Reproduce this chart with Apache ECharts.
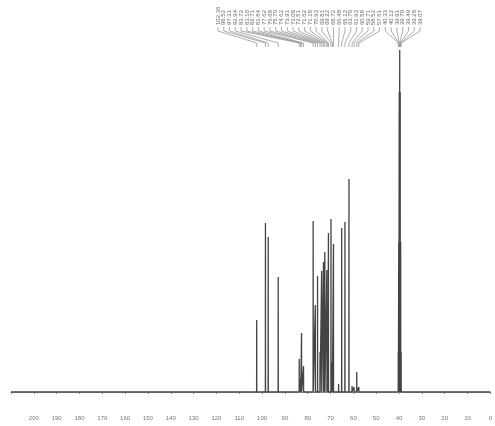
<!DOCTYPE html>
<html>
<head>
<meta charset="utf-8">
<script src="https://cdn.jsdelivr.net/npm/echarts@6/dist/echarts.min.js"></script>
<style>
html, body { margin: 0; padding: 0; background: #fff; }
#nmr { width: 495px; height: 426px; }
</style>
</head>
<body>
<div id="nmr"></div>
<script>
var myChart = echarts.init(document.getElementById('nmr'));

// peak positions (ppm) and heights
var peakPpm = [102.36, 98.52, 97.31, 92.94, 83.72, 83.10, 82.71, 81.84, 77.62, 76.68, 75.70, 74.62,
    73.91, 73.08, 72.51, 71.62, 71.18, 70.93, 69.81, 69.22, 68.72, 66.48, 65.12, 63.70, 61.93,
    60.58, 59.71, 58.52, 57.61,
    40.33, 40.12, 39.91, 39.70, 39.49, 39.28, 39.07];
var peakHeight = [72, 169, 155, 115, 33, 14, 59, 26, 171, 87, 116, 40,
    121, 130, 140, 122, 58, 159, 173, 30, 148, 8, 164, 170, 213,
    6, 5, 20, 5,
    40, 150, 300, 342, 300, 150, 40];

var axisTicks = [200, 190, 180, 170, 160, 150, 140, 130, 120, 110, 100, 90, 80, 70, 60, 50, 40, 30, 20, 10, 0];

// stick spectrum built from the peak list
var spectrum = [[210, 0]];
for (var i = 0; i < peakPpm.length; i++) {
    spectrum.push([peakPpm[i] + 0.04, 0]);
    spectrum.push([peakPpm[i], peakHeight[i]]);
    spectrum.push([peakPpm[i] - 0.04, 0]);
}
spectrum.push([0, 0]);

option = {
    animation: false,
    backgroundColor: '#fff',
    grid: {left: 11, right: 3, top: 42, bottom: 34},
    xAxis: {
        type: 'value',
        inverse: true,
        min: 0,
        max: 210,
        interval: 10,
        offset: 19,
        axisLine: {lineStyle: {color: '#8a8a8a', width: 1}},
        axisTick: {length: 2, lineStyle: {color: '#8a8a8a'}},
        axisLabel: {
            fontSize: 6,
            color: '#777',
            margin: 4,
            fontFamily: 'Liberation Sans',
            formatter: function (v) { return axisTicks.indexOf(v) >= 0 ? String(v) : ''; }
        },
        splitLine: {show: false}
    },
    yAxis: {
        type: 'value',
        min: 0,
        max: 350,
        show: false
    },
    series: [{
        type: 'line',
        data: spectrum,
        symbol: 'none',
        lineStyle: {color: '#444', width: 1.3}
    }]
};
myChart.setOption(option);

// rotated peak-pick labels with connector lines at the top
var labelX0 = 218, labelX1 = 420;
var els = [];
var n = peakPpm.length;
for (var j = 0; j < n; j++) {
    var lx = labelX0 + (labelX1 - labelX0) * j / (n - 1);
    var px = myChart.convertToPixel({xAxisIndex: 0}, peakPpm[j]);
    els.push({
        type: 'text',
        x: lx,
        y: 25,
        rotation: Math.PI / 2,
        style: {
            text: peakPpm[j].toFixed(2),
            fontSize: 6,
            fontFamily: 'Liberation Sans Narrow, Liberation Sans',
            fill: '#666',
            align: 'left',
            verticalAlign: 'middle'
        }
    });
    els.push({
        type: 'polyline',
        shape: {points: [[lx, 27], [lx, 31], [px, 43], [px, 47]]},
        style: {stroke: '#999', lineWidth: 0.8, fill: null}
    });
}
myChart.setOption({graphic: els});
</script>
</body>
</html>
